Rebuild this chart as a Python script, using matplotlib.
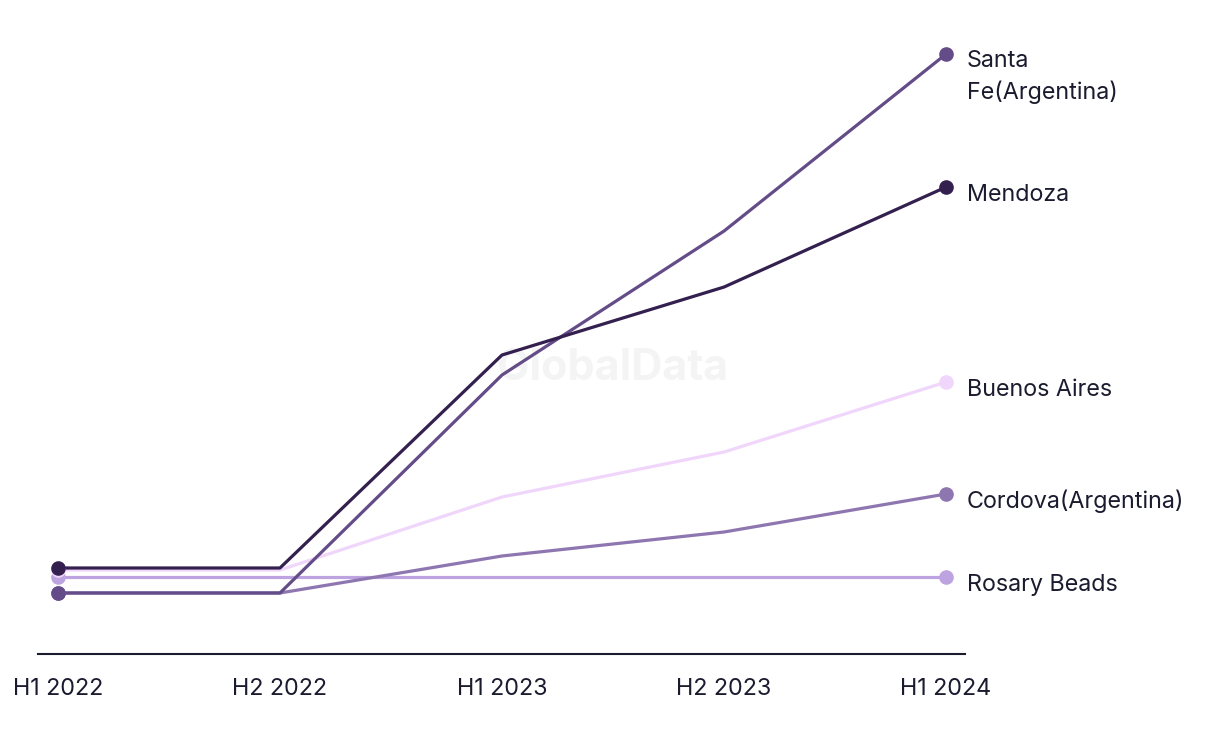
import matplotlib.pyplot as plt

periods = ["H1 2022", "H2 2022", "H1 2023", "H2 2023", "H1 2024"]

rosary_beads = [77, 77, 77, 77, 77]
cordova = [61, 61, 98, 122, 160]
buenos_aires = [84, 84, 157, 202, 272]
santa_fe = [61, 61, 279, 423, 600]
mendoza = [86, 86, 299, 367, 467]

series = [
    ("Rosary Beads", rosary_beads, "#bda4e0"),
    ("Cordova(Argentina)", cordova, "#8e76b1"),
    ("Buenos Aires", buenos_aires, "#f0d6fb"),
    ("Santa\nFe(Argentina)", santa_fe, "#634c87"),
    ("Mendoza", mendoza, "#33204f"),
]

TEXT = "#1b1b2f"
plt.rcParams["font.family"] = ["Inter", "DejaVu Sans"]

fig = plt.figure(figsize=(12.2, 7.44), dpi=100)
ax = fig.add_axes([0.0311, 0.121, 0.760, 0.852])

x = list(range(len(periods)))
for name, vals, col in series:
    ax.plot(x, vals, color=col, lw=2.3, solid_capstyle="round", zorder=2)
    ax.plot([x[0], x[-1]], [vals[0], vals[-1]], "o", color=col, ms=9.5,
            zorder=3, linestyle="none")
    if "\n" in name:
        ax.annotate(name, (x[-1], vals[-1]), xytext=(15, 3), textcoords="offset points",
                    va="top", ha="left", fontsize=16.8, color=TEXT,
                    linespacing=1.45, annotation_clip=False)
    else:
        ax.annotate(name, (x[-1], vals[-1]), xytext=(15, -5.5), textcoords="offset points",
                    va="center", ha="left", fontsize=16.8, color=TEXT,
                    annotation_clip=False)

ax.text(0.62, 0.45, "GlobalData", transform=ax.transAxes, fontsize=31,
        fontweight="bold", color="#f4f4f4", ha="center", va="center", zorder=1)

ax.set_xlim(-0.09, 4.086)
ax.set_ylim(0, 634)
ax.set_xticks(x)
ax.set_xticklabels(periods, fontsize=16.8, color=TEXT)
ax.tick_params(axis="x", length=0, pad=17)
ax.set_yticks([])
for s in ["top", "right", "left"]:
    ax.spines[s].set_visible(False)
ax.spines["bottom"].set_color(TEXT)
ax.spines["bottom"].set_linewidth(1.5)

fig.savefig("out.png", dpi=100)
